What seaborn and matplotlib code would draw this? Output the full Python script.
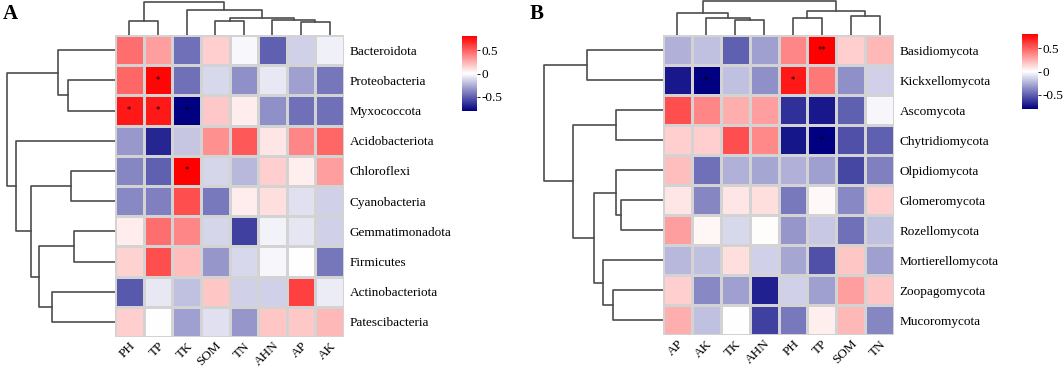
import matplotlib
matplotlib.use("Agg")
import matplotlib.pyplot as plt
import numpy as np
import pandas as pd
import seaborn as sns
from matplotlib.colors import LinearSegmentedColormap

# ---- panel A: bacteria ----
a_cols = ["PH", "TP", "TK", "SOM", "TN", "AHN", "AP", "AK"]
a_rows = ["Bacteroidota", "Proteobacteria", "Myxococcota", "Acidobacteriota",
          "Chloroflexi", "Cyanobacteria", "Gemmatimonadota", "Firmicutes",
          "Actinobacteriota", "Patescibacteria"]
a_vals = [
    [0.45, 0.30, -0.45, 0.15, -0.02, -0.50, -0.15, -0.05],
    [0.48, 0.78, -0.45, -0.12, -0.35, -0.07, -0.30, -0.43],
    [0.72, 0.72, -0.80, 0.17, 0.06, -0.35, -0.45, -0.45],
    [-0.32, -0.68, -0.18, 0.35, 0.52, 0.08, 0.38, 0.48],
    [-0.38, -0.50, 0.80, -0.13, -0.22, 0.15, 0.05, 0.30],
    [-0.37, -0.40, 0.55, -0.42, 0.06, 0.10, -0.10, -0.15],
    [0.06, 0.45, 0.38, -0.13, -0.60, -0.04, -0.08, -0.15],
    [0.14, 0.55, 0.20, -0.33, -0.12, -0.03, 0.00, -0.43],
    [-0.52, -0.07, -0.20, 0.18, -0.15, -0.15, 0.60, -0.06],
    [0.15, 0.00, -0.30, -0.10, -0.33, 0.18, 0.17, 0.22],
]
a_sig = [
    ["", "", "", "", "", "", "", ""],
    ["", "*", "", "", "", "", "", ""],
    ["*", "*", "*", "", "", "", "", ""],
    ["", "", "", "", "", "", "", ""],
    ["", "", "*", "", "", "", "", ""],
] + [[""] * 8 for _ in range(5)]
# merges: (left, right, height); ids >= n refer to earlier merges
a_col_links = [(0, 1, 41), (6, 7, 38), (5, 9, 44), (3, 4, 41), (11, 10, 51),
               (2, 12, 76), (8, 13, 98)]
a_row_links = [(1, 2, 142), (0, 10, 172), (4, 5, 133), (6, 7, 123), (8, 9, 188),
               (13, 14, 227), (12, 15, 253), (3, 16, 298), (11, 17, 325)]

# ---- panel B: fungi ----
b_cols = ["AP", "AK", "TK", "AHN", "PH", "TP", "SOM", "TN"]
b_rows = ["Basidiomycota", "Kickxellomycota", "Ascomycota", "Chytridiomycota",
          "Olpidiomycota", "Glomeromycota", "Rozellomycota", "Mortierellomycota",
          "Zoopagomycota", "Mucoromycota"]
b_vals = [
    [-0.25, -0.20, -0.50, -0.30, 0.38, 0.80, 0.15, 0.22],
    [-0.72, -0.80, -0.20, -0.35, 0.72, 0.42, -0.35, -0.15],
    [0.55, 0.38, 0.25, 0.30, -0.65, -0.72, -0.50, -0.03],
    [0.15, 0.15, 0.55, 0.37, -0.73, -0.80, -0.55, -0.50],
    [0.20, -0.45, -0.25, -0.28, -0.25, -0.30, -0.58, -0.40],
    [0.08, -0.38, 0.08, 0.10, -0.42, 0.02, -0.37, 0.15],
    [0.30, 0.03, -0.12, 0.01, -0.33, -0.17, -0.45, -0.20],
    [-0.22, -0.20, 0.10, -0.15, -0.28, -0.55, 0.18, -0.30],
    [0.15, -0.37, -0.30, -0.70, -0.15, -0.30, 0.30, 0.18],
    [0.25, -0.20, 0.00, -0.60, -0.42, 0.05, 0.22, -0.38],
]
b_sig = [
    ["", "", "", "", "", "**", "", ""],
    ["", "*", "", "", "*", "", "", ""],
    ["", "", "", "", "", "", "", ""],
    ["", "", "", "", "", "*", "", ""],
] + [[""] * 8 for _ in range(6)]
b_col_links = [(2, 3, 45), (1, 8, 52), (0, 9, 65), (4, 5, 50), (6, 7, 58),
               (11, 12, 73), (10, 13, 102)]
b_row_links = [(0, 1, 228), (2, 3, 141), (5, 6, 125), (4, 12, 141), (8, 9, 151),
               (7, 14, 180), (13, 15, 206), (11, 16, 271), (10, 17, 358)]

W, H = 1064, 369
SERIF = ["Liberation Serif", "DejaVu Serif"]
cmap = LinearSegmentedColormap.from_list("nwr", ["navy", "white", "red"])


def rect(x0, y0, x1, y1):
    return [x0 / W, 1 - y1 / H, (x1 - x0) / W, (y1 - y0) / H]


def draw_dendro(ax, links, n, orient):
    pos = {i: i + 0.5 for i in range(n)}
    hgt = {i: 0.0 for i in range(n)}
    for k, (l, r, h) in enumerate(links):
        xs = [pos[l], pos[l], pos[r], pos[r]]
        ys = [hgt[l], h, h, hgt[r]]
        if orient == "top":
            ax.plot(xs, ys, color="#4d4d4d", lw=1.2)
        else:
            ax.plot(ys, xs, color="#4d4d4d", lw=1.2)
        pos[n + k] = (pos[l] + pos[r]) / 2
        hgt[n + k] = h
    ax.axis("off")


def panel(hm_box, cbar_box, vals, sig, rows, cols, col_links, row_links,
          row_x0, col_top, letter, letter_x):
    x0, y0, x1, y1 = hm_box
    ax = fig.add_axes(rect(*hm_box))
    cax = fig.add_axes(rect(*cbar_box))
    df = pd.DataFrame(vals, index=rows, columns=cols)
    sns.heatmap(df, ax=ax, cmap=cmap, vmin=-0.8, vmax=0.8, center=0,
                linewidths=0.8, linecolor="#d3d3d3", cbar_ax=cax,
                annot=np.array(sig), fmt="",
                annot_kws={"fontsize": 6, "color": "black", "va": "center"})
    ax.yaxis.tick_right()
    ax.tick_params(axis="y", length=0, pad=4)
    ax.tick_params(axis="x", length=0, pad=2)
    plt.setp(ax.get_yticklabels(), rotation=0, fontsize=9.5, family=SERIF)
    plt.setp(ax.get_xticklabels(), rotation=45, ha="right",
             rotation_mode="anchor", fontsize=9.5, family=SERIF)
    ax.set_xlabel("")
    ax.set_ylabel("")

    cbar = ax.collections[0].colorbar
    cbar.set_ticks([-0.5, 0, 0.5])
    cbar.set_ticklabels(["-0.5", "0", "0.5"])
    cbar.outline.set_visible(False)
    plt.setp(cax.get_yticklabels(), family=SERIF, fontsize=9.5)
    cax.tick_params(length=2, width=0.6, pad=1)

    # column dendrogram above the heatmap
    dax = fig.add_axes(rect(x0, 0, x1, y0))
    draw_dendro(dax, col_links, len(cols), "top")
    dax.set_xlim(0, len(cols))
    dax.set_ylim(0, col_top)

    # row dendrogram left of the heatmap
    rax = fig.add_axes(rect(row_x0, y0, x0, y1))
    draw_dendro(rax, row_links, len(rows), "left")
    rax.set_ylim(len(rows), 0)
    rax.set_xlim((x0 - row_x0) * 3, 0)

    fig.text(letter_x / W, 1 - 14 / H, letter, fontsize=15, fontweight="bold",
             family=SERIF, va="center")


fig = plt.figure(figsize=(W / 100, H / 100), dpi=100)
panel((115, 35, 344, 337), (462, 36, 477, 111), a_vals, a_sig, a_rows, a_cols,
      a_col_links, a_row_links, 0, 105, "A", 3)
panel((663, 35, 894, 335), (1022, 34, 1038, 109), b_vals, b_sig, b_rows, b_cols,
      b_col_links, b_row_links, 520, 105, "B", 530)

fig.savefig("out.png", dpi=100)
